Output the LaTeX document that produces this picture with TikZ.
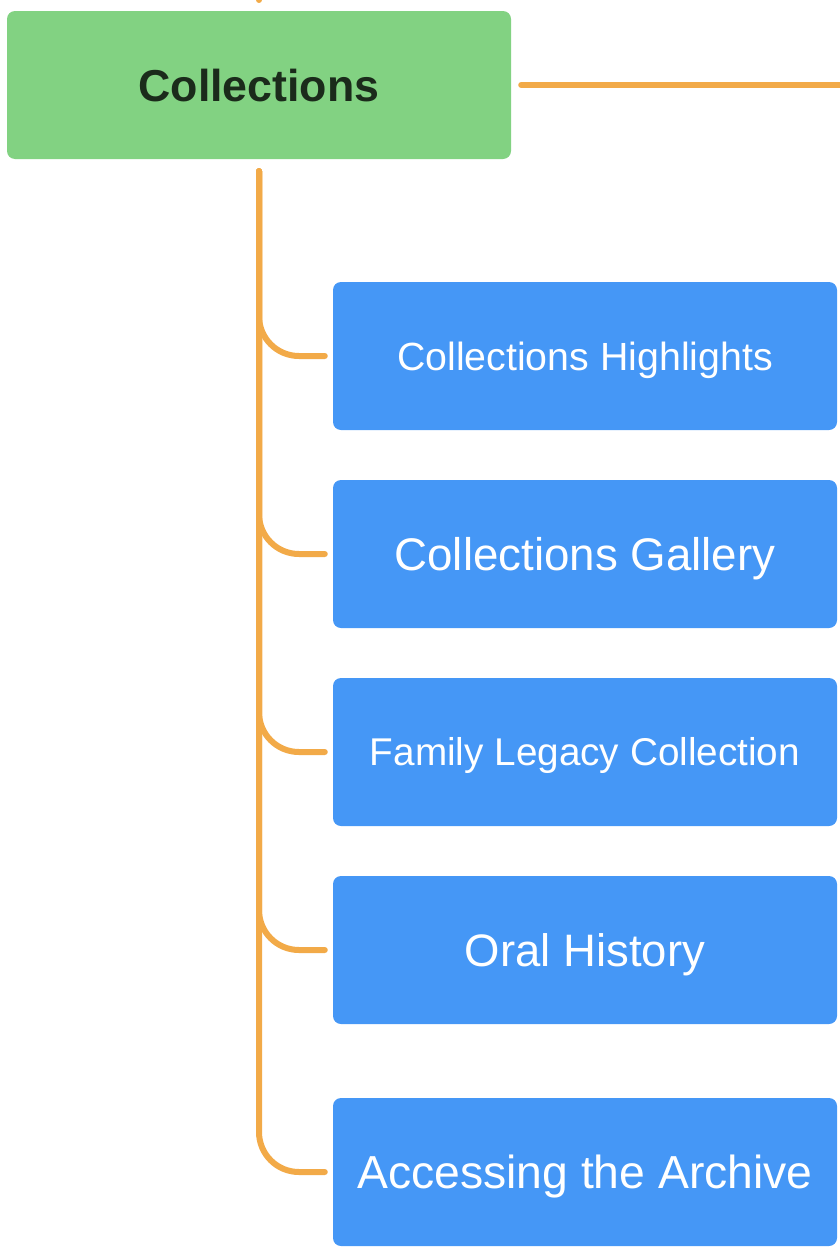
\documentclass[tikz,border=0pt]{standalone}
\usepackage{fontspec}
\setmainfont{Liberation Sans}
\definecolor{boxgreen}{HTML}{82D282}
\definecolor{textgreen}{HTML}{1B2B1B}
\definecolor{boxblue}{HTML}{4597F6}
\definecolor{lineorange}{HTML}{F2AA48}
\tikzset{
  mainbox/.style={rectangle, rounded corners=8pt, fill=boxgreen, minimum width=504pt, minimum height=148pt, text=textgreen, font=\bfseries\fontsize{44.7}{50}\selectfont, inner sep=0pt, text height=32pt, text depth=0pt},
  subbox/.style={rectangle, rounded corners=8pt, fill=boxblue, minimum width=504pt, minimum height=148pt, text=white, inner sep=0pt, text depth=0pt},
  conn/.style={draw=lineorange, line width=6pt, line cap=round, rounded corners=40pt}
}
\begin{document}
\begin{tikzpicture}[x=1pt,y=-1pt]
\useasboundingbox (0,0) rectangle (840,1250);
\node[mainbox] (coll) at (259,85) {Collections};
\node[subbox, font=\fontsize{39.3}{44}\selectfont, text height=28.1pt] (b1) at (585,356) {Collections Highlights};
\node[subbox, font=\fontsize{45.7}{50}\selectfont, text height=32.7pt] (b2) at (585,554) {Collections Gallery};
\node[subbox, font=\fontsize{38.7}{44}\selectfont, text height=27.7pt] (b3) at (585,752) {Family Legacy Collection};
\node[subbox, font=\fontsize{45.5}{50}\selectfont, text height=32.6pt] (b4) at (585,950) {Oral History};
\node[subbox, font=\fontsize{46.3}{50}\selectfont, text height=33.2pt] (b5) at (585,1172) {Accessing the Archive};
\coordinate (upend) at (259,0);
\coordinate (rightend) at (846,85);
\draw[conn] ([yshift=20pt]upend) -- (upend);
\draw[conn] ([xshift=10pt]coll.east) -- (rightend);
\foreach \b in {b1,b2,b3,b4,b5}{
  \draw[conn] ([yshift=-12pt]coll.south) |- ([xshift=-8pt]\b.west);
}
\end{tikzpicture}
\end{document}
